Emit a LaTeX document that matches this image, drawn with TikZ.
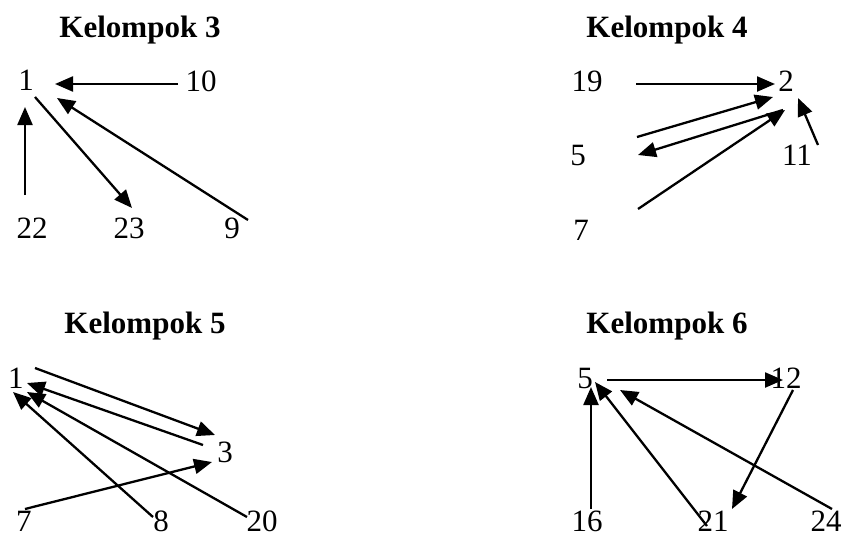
\documentclass[tikz,border=0pt]{standalone}
\usepackage{fontspec}
\setmainfont{Liberation Serif}
\usetikzlibrary{arrows.meta}
\tikzset{
  lbl/.style={inner sep=0pt, anchor=base, font=\fontsize{31}{37}\selectfont},
  ttl/.style={inner sep=0pt, anchor=base, font=\fontsize{31}{37}\selectfont\bfseries},
  arr/.style={line width=2.3pt, -{Triangle[length=18pt,width=15pt]}}
}
\begin{document}
\begin{tikzpicture}[x=1pt,y=-1pt]
\useasboundingbox (0,0) rectangle (843,538);
% Kelompok 3
\node[ttl] (t3) at (140,37) {Kelompok 3};
\node[lbl] (a1) at (26,90) {1};
\node[lbl] (a10) at (201,91) {10};
\node[lbl] (a22) at (32,238) {22};
\node[lbl] (a23) at (129,238) {23};
\node[lbl] (a9) at (232,238) {9};
\draw[arr] ([shift={(-23,-7)}]a10.base) -- ([shift={(29,-6)}]a1.base);
\draw[arr] ([shift={(-7,-43)}]a22.base) -- ([shift={(-1,17)}]a1.base);
\draw[arr] ([shift={(9,7)}]a1.base) -- ([shift={(3,-30)}]a23.base);
\draw[arr] ([shift={(16,-18)}]a9.base) -- ([shift={(31,8)}]a1.base);
% Kelompok 4
\node[ttl] (t4) at (667,37) {Kelompok 4};
\node[lbl] (b19) at (587,91) {19};
\node[lbl] (b2) at (786,91) {2};
\node[lbl] (b5) at (578,165) {5};
\node[lbl] (b11) at (797,165) {11};
\node[lbl] (b7) at (581,240) {7};
\draw[arr] ([shift={(49,-7)}]b19.base) -- ([shift={(-11,-7)}]b2.base);
\draw[arr] ([shift={(59,-28)}]b5.base) -- ([shift={(-13,6)}]b2.base);
\draw[arr] ([shift={(-3,19)}]b2.base) -- ([shift={(60,-10)}]b5.base);
\draw[arr] ([shift={(57,-31)}]b7.base) -- ([shift={(-1,19)}]b2.base);
\draw[arr] ([shift={(21,-20)}]b11.base) -- ([shift={(12,7)}]b2.base);
% Kelompok 5
\node[ttl] (t5) at (145,333) {Kelompok 5};
\node[lbl] (c1) at (16,388) {1};
\node[lbl] (c3) at (225,462) {3};
\node[lbl] (c7) at (24,531) {7};
\node[lbl] (c8) at (161,531) {8};
\node[lbl] (c20) at (262,531) {20};
\draw[arr] ([shift={(19,-20)}]c1.base) -- ([shift={(-10,-27)}]c3.base);
\draw[arr] ([shift={(-22,-17)}]c3.base) -- ([shift={(11,-5)}]c1.base);
\draw[arr] ([shift={(-8,-14)}]c8.base) -- ([shift={(-3,4)}]c1.base);
\draw[arr] ([shift={(-15,-14)}]c20.base) -- ([shift={(11,4)}]c1.base);
\draw[arr] ([shift={(1,-22)}]c7.base) -- ([shift={(-13,0)}]c3.base);
% Kelompok 6
\node[ttl] (t6) at (667,333) {Kelompok 6};
\node[lbl] (d5) at (585,388) {5};
\node[lbl] (d12) at (786,388) {12};
\node[lbl] (d16) at (587,531) {16};
\node[lbl] (d21) at (713,531) {21};
\node[lbl] (d24) at (826,531) {24};
\draw[arr] ([shift={(22,-8)}]d5.base) -- ([shift={(-3,-8)}]d12.base);
\draw[arr] ([shift={(7,2)}]d12.base) -- ([shift={(19,-22)}]d21.base);
\draw[arr] ([shift={(4,-22)}]d16.base) -- ([shift={(6,-1)}]d5.base);
\draw[arr] ([shift={(-6,-5)}]d21.base) -- ([shift={(10,-6)}]d5.base);
\draw[arr] ([shift={(6,-22)}]d24.base) -- ([shift={(35,2)}]d5.base);
\end{tikzpicture}
\end{document}
